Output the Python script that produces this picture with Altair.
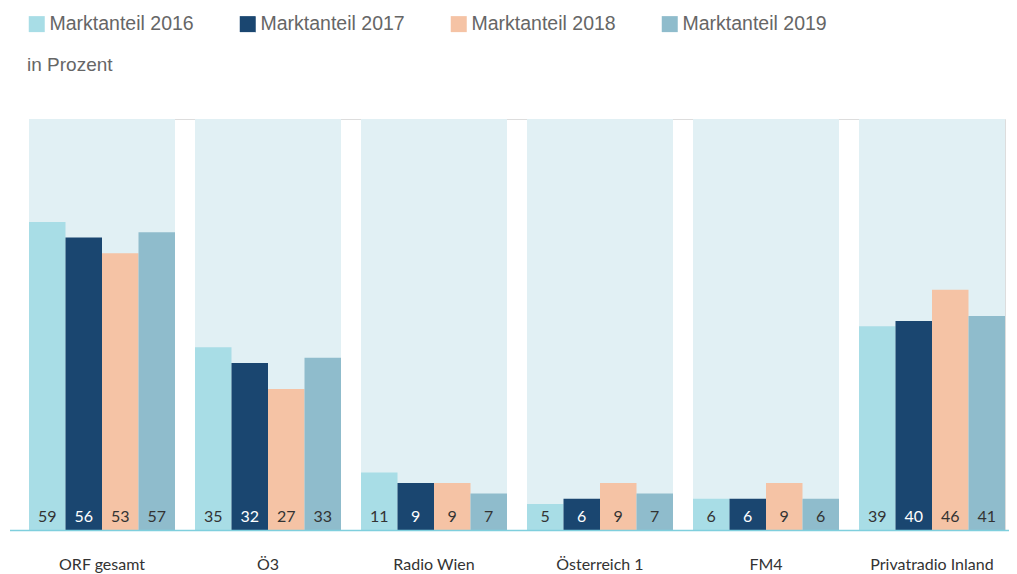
import altair as alt
import pandas as pd

stations = ["ORF gesamt", "Ö3", "Radio Wien", "Österreich 1", "FM4", "Privatradio Inland"]
years = ["Marktanteil 2016", "Marktanteil 2017", "Marktanteil 2018", "Marktanteil 2019"]
v2016 = [59, 35, 11, 5, 6, 39]
v2017 = [56, 32, 9, 6, 6, 40]
v2018 = [53, 27, 9, 9, 9, 46]
v2019 = [57, 33, 7, 7, 6, 41]
colors = ["#a8dde6", "#1a4670", "#f5c3a5", "#8fbccc"]
label_colors = ["#333333", "#ffffff", "#333333", "#333333"]
ymax = 78.7

rows = []
for yi, (yr, vals) in enumerate(zip(years, [v2016, v2017, v2018, v2019])):
    for s, v in zip(stations, vals):
        rows.append({"station": s, "year": yr, "value": v, "lc": label_colors[yi]})
df = pd.DataFrame(rows)
bg = pd.DataFrame({"station": stations, "top": [ymax] * len(stations)})
one = pd.DataFrame({"t": ["in Prozent"]})

narrow = "Lato, sans-serif"
legend_font = "Liberation Sans, Arial, sans-serif"

xenc = alt.X("station:N", sort=stations,
             scale=alt.Scale(paddingInner=0.1205, paddingOuter=0),
             axis=alt.Axis(title=None, labelAngle=0, ticks=False, domain=False,
                           labelPadding=26, labelFontSize=16, labelFont=narrow,
                           labelColor="#333333", grid=False))
yscale = alt.Scale(domain=[0, ymax], nice=False)

background = alt.Chart(bg).mark_bar(color="#e1f0f4").encode(
    x=xenc,
    y=alt.Y("top:Q", scale=yscale, axis=None),
)

bars = alt.Chart(df).mark_bar().encode(
    x=alt.X("station:N", sort=stations),
    xOffset=alt.XOffset("year:N", sort=years, scale=alt.Scale(paddingInner=0, paddingOuter=0)),
    y=alt.Y("value:Q", scale=yscale, axis=None),
    color=alt.Color("year:N", sort=years,
                    scale=alt.Scale(domain=years, range=colors),
                    legend=alt.Legend(title=None, orient="none", legendX=-2, legendY=-105,
                                      direction="horizontal", columns=4,
                                      symbolType="square", symbolSize=256,
                                      symbolStrokeWidth=0, symbolOffset=0,
                                      labelOffset=3, labelFontSize=19.5,
                                      labelFont=legend_font,
                                      labelColor="#666666", columnPadding=44,
                                      labelLimit=300)),
)

labels = alt.Chart(df).mark_text(baseline="alphabetic", dy=-8, fontSize=16, font=narrow).encode(
    x=alt.X("station:N", sort=stations),
    xOffset=alt.XOffset("year:N", sort=years),
    y=alt.datum(0),
    text=alt.Text("value:Q"),
    color=alt.Color("lc:N", scale=None),
)

baseline = alt.Chart(one).mark_rule(color="#7fcfdd", strokeWidth=1.5).encode(
    x=alt.value(-19), x2=alt.value(1000), y=alt.value(411.5)
)

subtitle = alt.Chart(one).mark_text(align="left", baseline="middle", fontSize=19,
                                    font=legend_font, color="#666666").encode(
    x=alt.value(-2), y=alt.value(-54), text=alt.Text("t:N")
)

chart = alt.layer(background, bars, labels, baseline, subtitle).properties(
    width=976, height=411,
    autosize="none",
    padding={"left": 21, "top": 111, "right": 4, "bottom": 44},
).configure_view(stroke=None).configure(background="white")

chart.save("out.html", embed_options={"renderer": "svg", "actions": False})
